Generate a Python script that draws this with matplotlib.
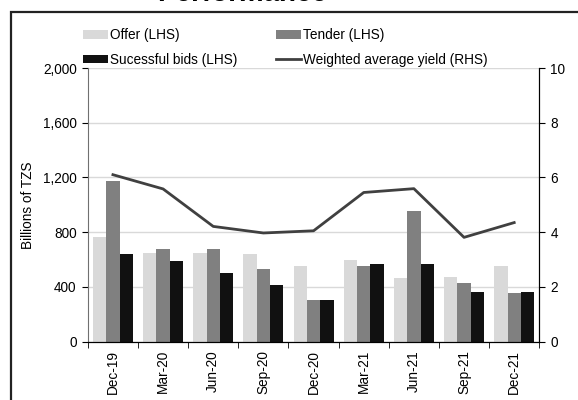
import numpy as np
import matplotlib.pyplot as plt
from matplotlib.patches import Rectangle

plt.rcParams['font.family'] = ['Liberation Sans', 'DejaVu Sans']

# data
quarters = ['Dec-19', 'Mar-20', 'Jun-20', 'Sep-20', 'Dec-20', 'Mar-21', 'Jun-21', 'Sep-21', 'Dec-21']
offer = [761, 647, 647, 640, 549, 593, 466, 474, 556]
tender = [1176, 678, 678, 534, 305, 549, 957, 427, 354]
successful = [640, 588, 503, 415, 305, 564, 564, 361, 361]
yield_avg = [6.10, 5.58, 4.21, 3.97, 4.05, 5.45, 5.59, 3.81, 4.35]

fig = plt.figure(figsize=(5.78, 4.0), dpi=100)
ax = fig.add_axes([0.152, 0.146, 0.781, 0.684])
ax2 = ax.twinx()

x = np.arange(len(quarters))
w = 0.266
b1 = ax.bar(x - w, offer, w, color='#d9d9d9', label='Offer (LHS)', zorder=2)
b2 = ax.bar(x, tender, w, color='#808080', label='Tender (LHS)', zorder=2)
b3 = ax.bar(x + w, successful, w, color='#111111', label='Sucessful bids (LHS)', zorder=2)
l1, = ax2.plot(x, yield_avg, color='#404040', lw=2.0, label='Weighted average yield (RHS)')

ax.set_xlim(-0.5, len(quarters) - 0.5)
ax.set_ylim(0, 2000)
ax2.set_ylim(0, 10)
ax.set_yticks(np.arange(0, 2001, 400))
ax.set_yticklabels(['{:,}'.format(v) for v in range(0, 2001, 400)])
ax2.set_yticks(np.arange(0, 11, 2))
ax.grid(axis='y', color='#d9d9d9', lw=1.0, zorder=0)
ax.set_axisbelow(True)

ax.set_xticks(x)
ax.set_xticklabels(quarters, rotation=90)
ax.set_xticks(np.arange(-0.5, len(quarters)), minor=True)
ax.tick_params(axis='x', which='major', length=0, pad=6, labelsize=9.8)
ax.tick_params(axis='x', which='minor', length=4, direction='out', color='black')
ax.tick_params(axis='y', length=4, direction='out', labelsize=9.8, pad=4)
ax2.tick_params(axis='y', length=4, direction='out', labelsize=9.8, pad=4)

for a in (ax, ax2):
    a.spines['top'].set_visible(False)
ax.spines['left'].set_color('#707070')
ax2.spines['left'].set_visible(False)
ax2.spines['right'].set_color('black')
ax.spines['bottom'].set_color('black')

ax.set_ylabel('Billions of TZS', fontsize=9.8, labelpad=6)
fig.text(581 / 578, 0.49, 'Percent', rotation=270, ha='center', va='center', fontsize=9.8)

leg = fig.legend([b1, b3, b2, l1],
                 ['Offer (LHS)', 'Sucessful bids (LHS)', 'Tender (LHS)', 'Weighted average yield (RHS)'],
                 ncol=2, frameon=False, fontsize=9.8, loc='upper left',
                 bbox_to_anchor=(83 / 578, 1 - 28 / 400),
                 handlelength=1.85, handleheight=0.6, handletextpad=0.15,
                 columnspacing=2.8, labelspacing=0.8, borderaxespad=0, borderpad=0)

# outer frame, cut off at the right and bottom like the reference
fig.patches.append(Rectangle((11 / 578, -0.1), 1.2, 1 - 12 / 400 + 0.1,
                             transform=fig.transFigure, fill=False,
                             edgecolor='#222222', lw=1.6, clip_on=False))

fig.text(242 / 578, 1 - 1 / 400, 'Performance', ha='center', va='baseline',
         fontsize=20, fontweight='bold')

fig.savefig('out.png', dpi=100)
